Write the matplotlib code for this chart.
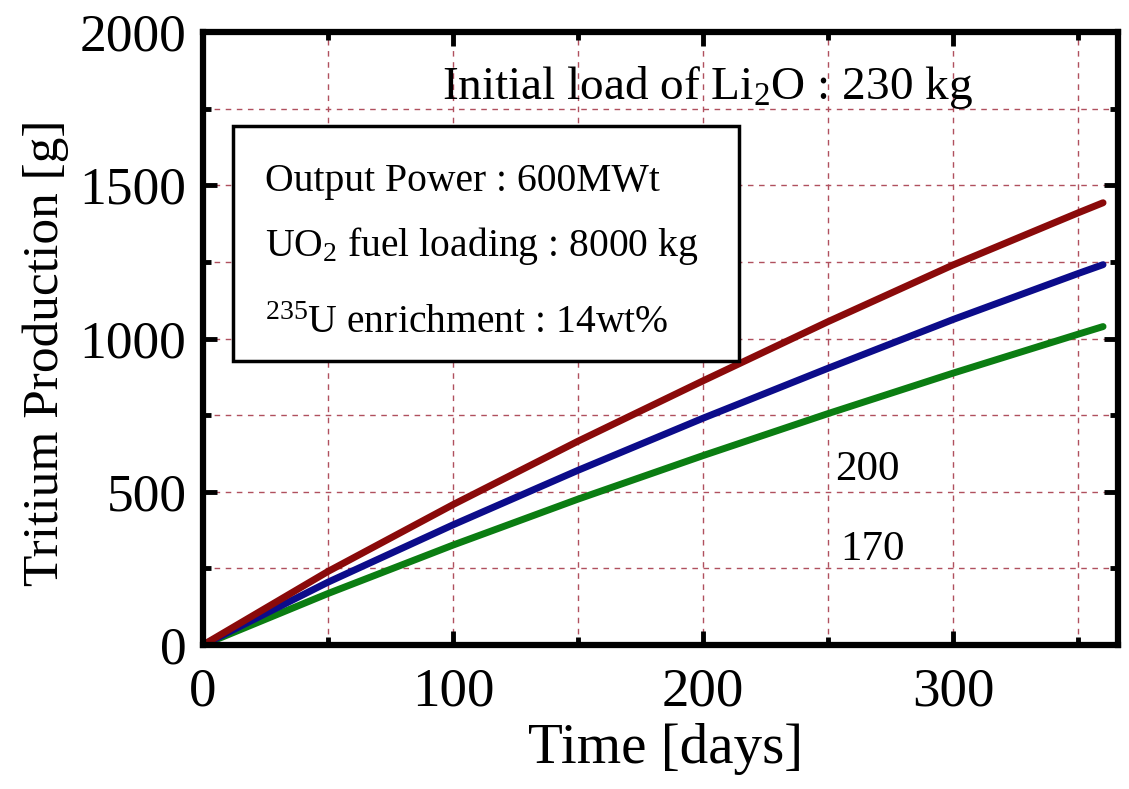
import matplotlib
matplotlib.use("Agg")
import matplotlib.pyplot as plt
from matplotlib.patches import Rectangle
from matplotlib.ticker import MultipleLocator

plt.rcParams['font.family'] = ['Liberation Serif', 'DejaVu Serif']
plt.rcParams['mathtext.fontset'] = 'custom'
plt.rcParams['mathtext.rm'] = 'Liberation Serif'
plt.rcParams['mathtext.it'] = 'Liberation Serif:italic'
plt.rcParams['mathtext.bf'] = 'Liberation Serif:bold'

# Data
days = [0, 50, 100, 150, 200, 250, 300, 350, 360]
li2o_red = [0, 240, 458, 665, 862, 1055, 1240, 1410, 1443]
li2o_blue = [0, 205, 392, 570, 740, 903, 1062, 1212, 1241]
li2o_green = [0, 168, 326, 476, 618, 755, 887, 1014, 1039]

x_ticks = [0, 100, 200, 300]
y_ticks = [0, 500, 1000, 1500, 2000]

fig = plt.figure(figsize=(11.29, 7.89), dpi=100)
ax = fig.add_axes([0.1798, 0.1825, 0.8105, 0.7769])

ax.plot(days, li2o_green, color='#0b7d12', lw=5, solid_capstyle='round', solid_joinstyle='round', zorder=3)
ax.plot(days, li2o_blue, color='#0c0c8a', lw=5, solid_capstyle='round', solid_joinstyle='round', zorder=4)
ax.plot(days, li2o_red, color='#8a0a0a', lw=5, solid_capstyle='round', solid_joinstyle='round', zorder=5)

ax.set_xlim(0, 366)
ax.set_ylim(0, 2000)
ax.set_xticks(x_ticks)
ax.set_yticks(y_ticks)
ax.xaxis.set_minor_locator(MultipleLocator(50))
ax.yaxis.set_minor_locator(MultipleLocator(250))

ax.grid(True, which='both', color='#b0505e', linestyle=(0, (4, 4)), linewidth=1.0, zorder=1)

ax.tick_params(axis='both', which='both', direction='in', top=True, right=True, width=3.5, colors='black')
ax.tick_params(axis='both', which='major', length=10)
ax.tick_params(axis='both', which='minor', length=6)
ax.tick_params(axis='x', which='major', labelsize=39.5, pad=16)
ax.tick_params(axis='y', which='major', labelsize=38.5, pad=12)

for s in ax.spines.values():
    s.set_linewidth(4.5)
    s.set_zorder(6)

ax.set_xlabel('Time [days]', fontsize=41)
ax.set_ylabel('Tritium Production [g]', fontsize=37, va='center')
ax.xaxis.set_label_coords(0.505, -0.128)
ax.yaxis.set_label_coords(-0.172, 0.476)

ax.text(0.551, 0.891, 'Initial load of Li$_2$O : 230 kg', transform=ax.transAxes,
        ha='center', va='baseline', fontsize=34, zorder=7)

box = Rectangle((0.0328, 0.4633), 0.553, 0.3834, transform=ax.transAxes,
                facecolor='white', edgecolor='black', lw=2.5, zorder=7)
ax.add_patch(box)
ax.text(0.0678, 0.7406, 'Output Power : 600MWt', transform=ax.transAxes,
        ha='left', va='baseline', fontsize=28.5, zorder=8)
ax.text(0.0678, 0.6346, 'UO$_2$ fuel loading : 8000 kg', transform=ax.transAxes,
        ha='left', va='baseline', fontsize=28.5, zorder=8)
ax.text(0.0678, 0.509, '$^{235}$U enrichment : 14wt%', transform=ax.transAxes,
        ha='left', va='baseline', fontsize=28.5, zorder=8)

ax.text(253, 538, '200', ha='left', va='baseline', fontsize=31, zorder=7)
ax.text(255, 277, '170', ha='left', va='baseline', fontsize=31, zorder=7)

fig.savefig('out.png', dpi=100)
